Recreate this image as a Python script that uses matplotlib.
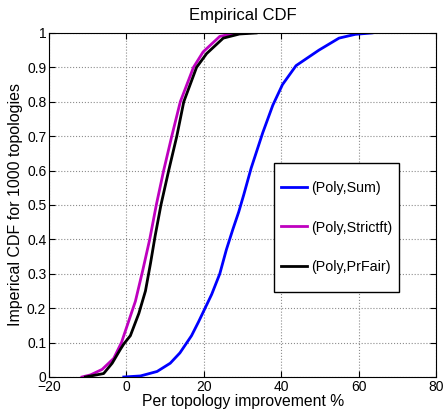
import matplotlib.pyplot as plt
from matplotlib.patches import Rectangle
import numpy as np

plt.rcParams['font.family'] = ['Liberation Sans', 'DejaVu Sans']

# CDF levels and the improvement (%) read at each level
sum_x = [-0.7, 3.6, 7.9, 11.3, 13.8, 16.8, 18.6, 20.3, 22.0, 24.1, 25.8, 27.5, 29.0, 30.3,
         32.2, 35.2, 37.8, 40.3, 43.8, 49.7, 54.9, 59.1, 63.4]
sum_y = [0.0, 0.003, 0.016, 0.04, 0.07, 0.12, 0.16, 0.2, 0.24, 0.3, 0.37, 0.43, 0.48, 0.53,
         0.607, 0.71, 0.79, 0.85, 0.905, 0.95, 0.985, 0.996, 1.0]

strict_x = [-11.5, -9.3, -6.3, -3.3, -1.3, 0.2, 2.3, 4.2, 6.0, 7.7, 9.6, 11.7, 13.9, 17.3,
            19.8, 24.1, 27.5, 31.0]
strict_y = [0.0, 0.006, 0.022, 0.054, 0.1, 0.15, 0.22, 0.31, 0.4, 0.5, 0.6, 0.7, 0.8, 0.9,
            0.945, 0.99, 0.998, 1.0]

prfair_x = [-10.6, -5.9, -3.7, -1.6, -0.7, 1.0, 3.2, 4.9, 6.2, 7.4, 8.9, 10.9, 13.0, 14.8,
            18.1, 20.7, 25.0, 29.2, 33.5]
prfair_y = [0.0, 0.01, 0.04, 0.08, 0.096, 0.12, 0.185, 0.25, 0.33, 0.41, 0.5, 0.6, 0.7, 0.8,
            0.9, 0.94, 0.985, 0.997, 1.0]

labels = ['(Poly,Sum)', '(Poly,Strictft)', '(Poly,PrFair)']

fig = plt.figure(figsize=(4.46, 4.13), dpi=100)
ax = fig.add_axes([0.110, 0.0872, 0.868, 0.833])

ax.plot(sum_x, sum_y, color='#0000FF', lw=2, label=labels[0])
ax.plot(strict_x, strict_y, color='#BF00BF', lw=2, label=labels[1])
ax.plot(prfair_x, prfair_y, color='black', lw=2, label=labels[2])

ax.set_xlim(-20, 80)
ax.set_ylim(0, 1)
ax.set_xticks(np.arange(-20, 81, 20))
ax.set_yticks(np.arange(0, 1.01, 0.1))
ax.set_xticklabels(['\u221220', '0', '20', '40', '60', '80'])
ax.set_yticklabels(['0', '0.1', '0.2', '0.3', '0.4', '0.5', '0.6', '0.7', '0.8', '0.9', '1'])
ax.tick_params(direction='in', top=True, right=True, labelsize=10, length=4, pad=2)
ax.grid(True, linestyle=':', color='0.55', lw=0.8)

ax.set_title('Empirical CDF', fontsize=12, pad=9)
ax.set_xlabel('Per topology improvement %', fontsize=11.3, labelpad=0)
ax.set_ylabel('Imperical CDF for 1000 topologies', fontsize=11.5, labelpad=3)

# MATLAB-style legend box: roomy top/bottom, tight sides -> draw the box separately
ax.add_patch(Rectangle((0.581, 0.247), 0.323, 0.375, transform=ax.transAxes,
                       facecolor='white', edgecolor='black', lw=1.0, zorder=4))
leg = ax.legend(loc='center', bbox_to_anchor=(0.7425, 0.4345), fontsize=10.3,
                frameon=False, handlelength=1.85, handletextpad=0.25,
                labelspacing=1.8, borderpad=0, borderaxespad=0)
leg.set_zorder(5)

fig.savefig('out.png', dpi=100)
